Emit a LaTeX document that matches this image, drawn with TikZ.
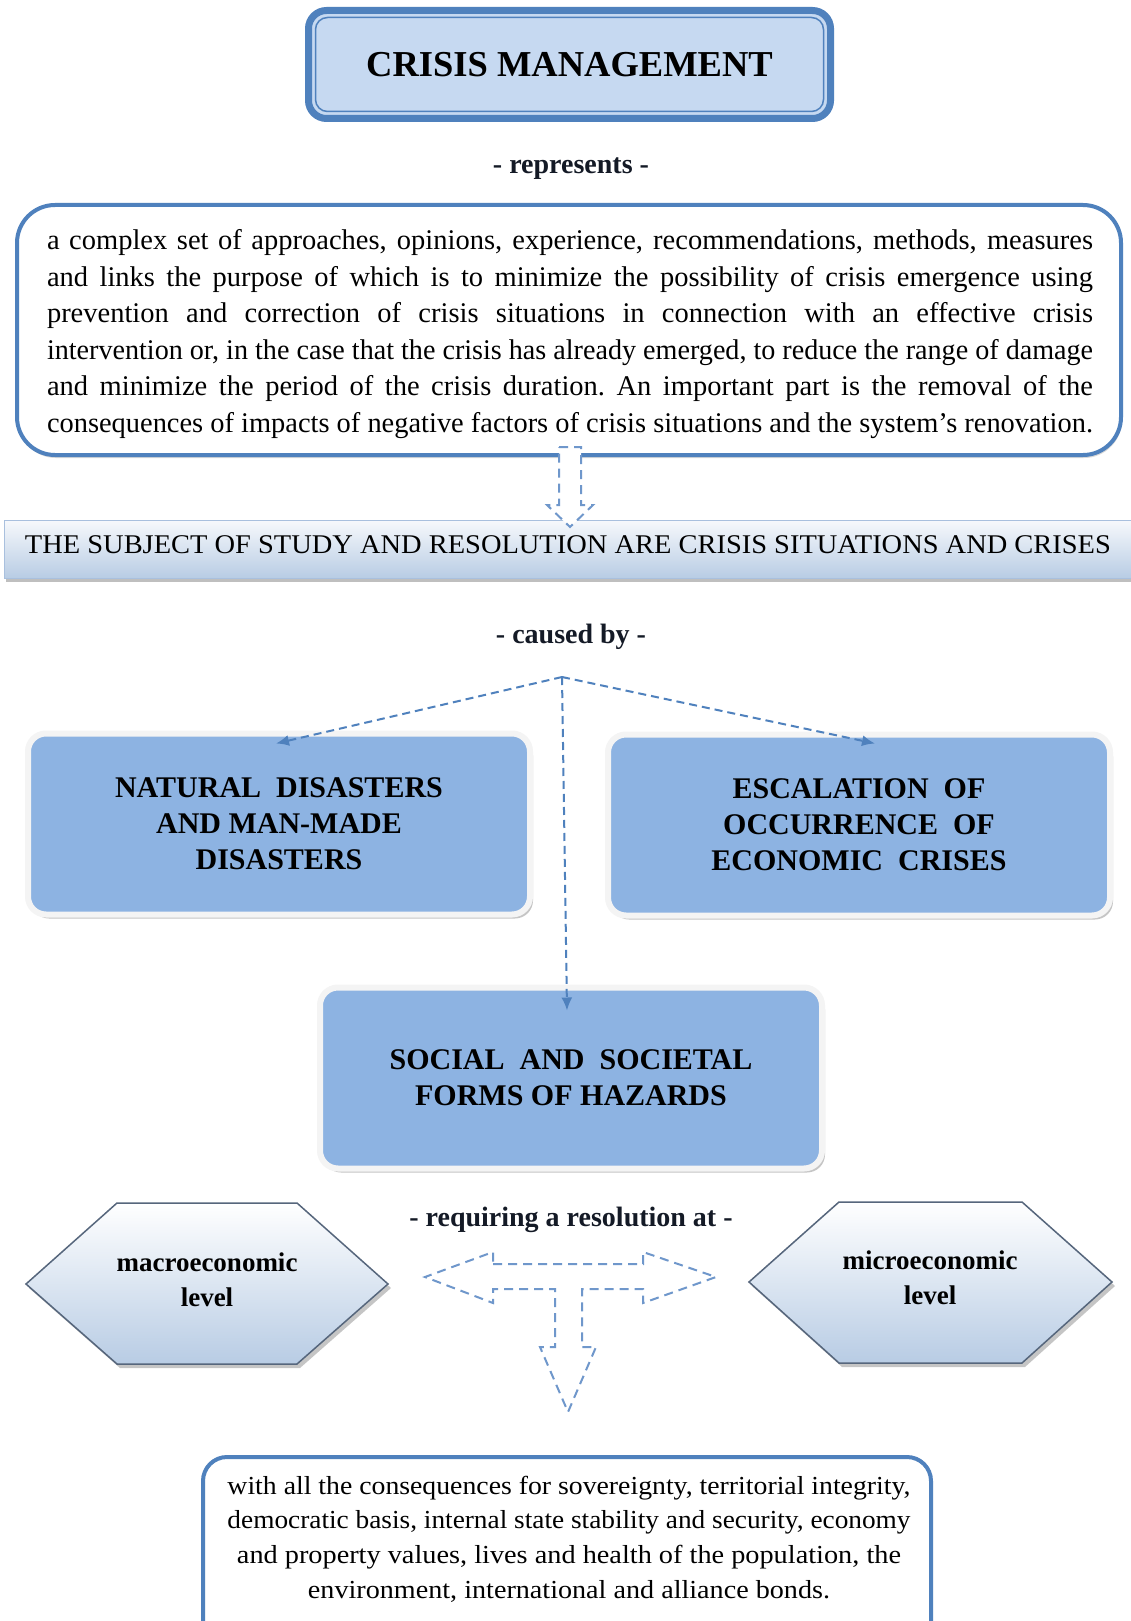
\documentclass[tikz,border=0pt]{standalone}
\usepackage{fontspec}
\setmainfont{Liberation Serif}
\usepackage{graphicx}
\usetikzlibrary{arrows.meta,shadows,calc}

\definecolor{accent}{HTML}{4F81BD}
\definecolor{pale}{HTML}{C6D9F1}
\definecolor{boxblue}{HTML}{8DB3E2}
\definecolor{rim}{HTML}{F4F4F4}
\definecolor{gradtop}{HTML}{F7F9FC}
\definecolor{gradbot}{HTML}{B8CCE4}
\definecolor{bannerline}{HTML}{A9C0DE}
\definecolor{hexline}{HTML}{56667C}
\definecolor{blockdash}{HTML}{6F97CB}
\definecolor{ink}{HTML}{141A26}

% one full-width justified line: spaces stretch, or the line is squeezed if too long
\newcommand\jline[2][1046pt]{{%
  \spaceskip=.25em plus 3em minus .06em\relax
  \xspaceskip=.25em plus 3em minus .06em\relax
  \setbox0=\hbox{#2}%
  \ifdim\wd0>#1\relax\resizebox{#1}{\height}{#2}\else\makebox[#1][s]{#2}\fi}}
% a line set to a given width
\newcommand\fitline[2]{\resizebox{#1}{\height}{#2}}

\begin{document}
\begin{tikzpicture}[x=1pt,y=-1pt,
  titlebox/.style={draw=accent,line width=7pt,fill=pale,rounded corners=18pt,
    minimum width=522pt,minimum height=108pt,inner sep=0pt,outer sep=0pt,
    font=\fontsize{36.5}{40}\selectfont\bfseries},
  linktext/.style={font=\fontsize{28}{32}\selectfont\bfseries,text=ink,inner sep=0pt},
  defbox/.style={draw=accent,line width=4pt,fill=white,rounded corners=38pt,
    minimum width=1104pt,minimum height=250pt,inner sep=0pt,outer sep=0pt,
    drop shadow={shadow xshift=1pt,shadow yshift=-3pt,opacity=.3}},
  bodytext/.style={text width=1046pt,align=left,inner sep=0pt,
    font=\fontsize{28.5}{36.6}\selectfont},
  banner/.style={draw=bannerline,line width=1pt,top color=gradtop,bottom color=gradbot,
    minimum width=1132pt,minimum height=58pt,inner sep=0pt,outer sep=0pt,
    drop shadow={shadow xshift=2pt,shadow yshift=-4pt,opacity=.5}},
  bluebox/.style={fill=boxblue,draw=rim,line width=6pt,rounded corners=18pt,
    minimum width=502pt,minimum height=181pt,inner sep=0pt,outer sep=0pt,align=center,
    drop shadow={shadow xshift=3pt,shadow yshift=-4pt,opacity=.45},
    font=\fontsize{30}{36}\selectfont\bfseries},
  conn/.style={draw=accent,line width=2pt,dash pattern=on 8pt off 5pt,
    -{Latex[length=13pt,width=11pt]}},
  blockarrow/.style={draw=blockdash,line width=2pt,dash pattern=on 9pt off 6pt,
    fill=white,line join=miter},
  hexshape/.style={draw=hexline,line width=1.5pt,top color=white,bottom color=gradbot,
    drop shadow={shadow xshift=3pt,shadow yshift=-4pt,opacity=.45}},
  hextext/.style={align=center,font=\fontsize{27}{35}\selectfont\bfseries,inner sep=0pt},
  endbox/.style={draw=accent,line width=4pt,fill=white,rounded corners=24pt,
    minimum width=728pt,minimum height=200pt,inner sep=0pt,outer sep=0pt},
  endtext/.style={align=center,inner sep=0pt,font=\fontsize{26}{34.7}\selectfont}
]
\useasboundingbox (0,0) rectangle (1131,1621);
\fill[white] (0,0) rectangle (1131,1621);

% title
\node[titlebox] (title) at (569.5,64.5) {CRISIS MANAGEMENT};
\draw[accent,line width=1.5pt,rounded corners=12pt]
  ($(title.north west)+(7,7)$) rectangle ($(title.south east)+(-7,-7)$);

\node[linktext] (represents) at (571,169) {- represents -};

% definition
\node[defbox] (definition) at (569,330) {};
\node[bodytext] (definitiontext) at (570,334) {\noindent
\jline{a complex set of approaches, opinions, experience, recommendations, methods, measures}\\
\jline{and links the purpose of which is to minimize the possibility of crisis emergence using}\\
\jline{prevention and correction of crisis situations in connection with an effective crisis}\\
\jline{intervention or, in the case that the crisis has already emerged, to reduce the range of damage}\\
\jline{and minimize the period of the crisis duration. An important part is the removal of the}\\
\jline{consequences of impacts of negative factors of crisis situations and the system’s renovation.}};

% subject banner
\node[banner] (subject) at (570,549) {};
\node[inner sep=0pt,font=\fontsize{27}{30}\selectfont] (subjecttext) at (568,545)
  {\resizebox{1086pt}{\height}{THE SUBJECT OF STUDY AND RESOLUTION ARE CRISIS SITUATIONS AND CRISES}};

% hollow arrow from the definition down to the banner
\draw[blockarrow] (559,447) -- (581,447) -- (581,505) -- (593,505) -- (570,527)
  -- (547,505) -- (559,505) -- cycle;

\node[linktext] (causedby) at (571,637) {- caused by -};
\coordinate (hub) at (562,677);

% causes
\node[bluebox] (natural) at (279,824) {NATURAL\ \ DISASTERS\\AND MAN-MADE\\DISASTERS};
\node[bluebox] (escalation) at (859,825) {ESCALATION\ \ OF\\OCCURRENCE\ \ OF\\ECONOMIC\ \ CRISES};
\node[bluebox] (social) at (571,1078) {SOCIAL\ \ AND\ \ SOCIETAL\\FORMS\ OF\ HAZARDS};

\draw[conn] (hub) -- ([xshift=-3pt,yshift=-10pt]natural.north);
\draw[conn] (hub) -- ([xshift=16pt,yshift=-9pt]escalation.north);
\draw[conn] (hub) -- ([xshift=-4pt,yshift=-23pt]social.north);

\node[linktext] (requiring) at (571,1220) {- requiring a resolution at -};

% levels
\path[hexshape] (26,1284) -- (117,1203) -- (297,1203) -- (388,1284) -- (297,1364)
  -- (117,1364) -- cycle;
\node[hextext] (macro) at (207,1280) {macroeconomic\\level};
\path[hexshape] (749,1282) -- (839,1202) -- (1022,1202) -- (1112,1282) -- (1022,1363)
  -- (839,1363) -- cycle;
\node[hextext] (micro) at (930,1278) {microeconomic\\level};

% hollow three-way arrow
\draw[blockarrow] (493,1264) -- (643,1264) -- (643,1252) -- (716,1277) -- (643,1303)
  -- (643,1289) -- (582,1289) -- (582,1347) -- (596,1347) -- (568,1412)
  -- (540,1347) -- (555,1347) -- (555,1289) -- (493,1289) -- (493,1303)
  -- (425,1277) -- (493,1252) -- cycle;

% consequences
\node[endbox] (consequences) at (567,1557) {};
\node[endtext] (consequencestext) at (569,1539) {%
\fitline{683pt}{with all the consequences for sovereignty, territorial integrity,}\\
\fitline{683pt}{democratic basis, internal state stability and security, economy}\\
\fitline{664pt}{and property values, lives and health of the population, the}\\
\fitline{522pt}{environment, international and alliance bonds.}};
\end{tikzpicture}
\end{document}
